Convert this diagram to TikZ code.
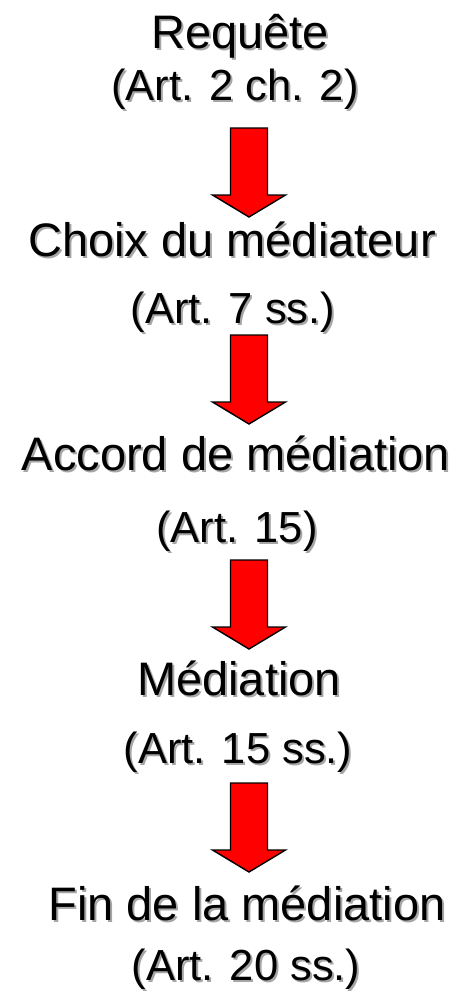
\documentclass[tikz,border=0pt]{standalone}
\usepackage{fontspec}
\setmainfont{Liberation Sans}
\newcommand\shtext[1]{\makebox[0pt][l]{\hspace{2pt}\raisebox{-2pt}[0pt][0pt]{\textcolor{black!35}{#1}}}#1}
\begin{document}
\begin{tikzpicture}[x=1pt,y=-1pt,
  titletxt/.style={inner sep=0pt,anchor=base,font=\fontsize{47}{47}\selectfont},
  subtxt/.style={inner sep=0pt,anchor=base,font=\fontsize{43.5}{43.5}\selectfont},
  bigarrow/.style={fill=red,draw=black,line width=1.4pt,line join=miter}]
\useasboundingbox (0,0) rectangle (459,996);
% texts with drop shadow
\foreach \n/\x/\y/\s/\t in {
  t1/240/48/titletxt/{Requête},
  s1/235/100/subtxt/{(Art. 2 ch. 2)},
  t2/232/256/titletxt/{Choix du médiateur},
  s2/233/323/subtxt/{(Art. 7 ss.)},
  t3/236/470/titletxt/{Accord de médiation},
  s3/237/542/subtxt/{(Art. 15)},
  t4/239/695/titletxt/{Médiation},
  s4/238/763/subtxt/{(Art. 15 ss.)},
  t5/247/920/titletxt/{Fin de la médiation},
  s5/246/980/subtxt/{(Art. 20 ss.)}}{
  \node[\s] (\n) at (\x,\y) {\shtext{\t}};
}
% block arrows
\foreach \a/\top in {a1/128,a2/335,a3/560,a4/783}{
  \coordinate (\a) at (249,\top);
  \draw[bigarrow,shift={(\a)}] (-18.5,0) -- (18.5,0) -- (18.5,67) -- (36.5,67)
    -- (0,89) -- (-36.5,67) -- (-18.5,67) -- cycle;
}
\end{tikzpicture}
\end{document}
